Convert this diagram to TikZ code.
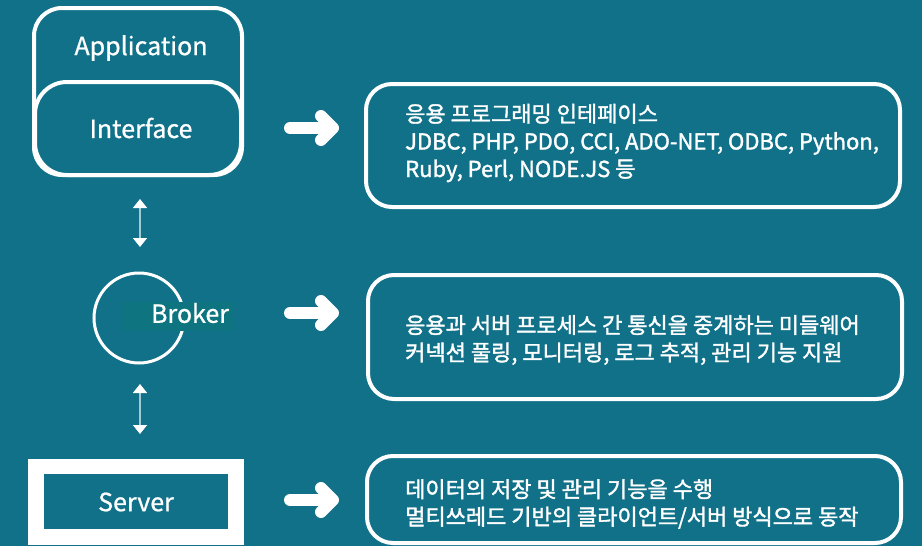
\documentclass[tikz,border=0pt]{standalone}
\usepackage{fontspec}
\setmainfont{Noto Sans CJK KR}[RawFeature={embolden=0.8}]
\newfontfamily\descfont{Noto Sans CJK KR}[RawFeature={embolden=1.6}]
\usetikzlibrary{arrows.meta}
\definecolor{bg}{HTML}{107189}
\definecolor{tagbg}{HTML}{0E7580}
\definecolor{shaft}{HTML}{A3CAD4}
\tikzset{
  x=1pt, y=-1pt,
  frame/.style={draw=white, line width=4pt, rounded corners=28pt},
  label/.style={text=white, font=\fontsize{25}{30}\selectfont, inner sep=0pt},
  desc/.style={text=white, font=\descfont\fontsize{22}{27.5}\selectfont, align=left, inner sep=0pt, anchor=west},
  bigarrow/.style={white, line width=12pt, line cap=round, line join=round},
  link/.style={shaft, line width=1.6pt, {Triangle[white,length=9pt,width=14pt]}-{Triangle[white,length=9pt,width=14pt]}}
}
\begin{document}
\begin{tikzpicture}
\fill[bg] (0,0) rectangle (922,546);
\useasboundingbox (0,0) rectangle (922,546);

% application / interface stack
\draw[frame] (34,8) rectangle (242,175);
\draw[frame, rounded corners=32pt] (35,82) rectangle (241,175);
\node[label] (app) at (141,48) {Application};
\node[label] (intf) at (141,128) {Interface};

% broker
\coordinate (bk) at (139,318);
\draw[white, line width=3pt] (bk) circle (45);
\fill[tagbg] (122,302) rectangle (233,331);
\node[label] (brk) at (190,313) {Broker};

% server
\fill[white] (28,459) rectangle (244,545);
\fill[bg] (44,474) rectangle (228,529);
\node[label] (srv) at (136,502) {Server};

% vertical links
\coordinate (l1a) at (140,199);
\coordinate (l1b) at (140,247);
\coordinate (l2a) at (140,384);
\coordinate (l2b) at (140,434);
\draw[link] (l1a) -- (l1b);
\draw[link] (l2a) -- (l2b);

% description boxes
\draw[frame, rounded corners=26pt] (366,84) rectangle (900,207);
\draw[frame, rounded corners=26pt] (368,275) rectangle (902,399);
\draw[frame, rounded corners=26pt] (367,456) rectangle (901,543);

\node[desc] (d1) at (405,143) {응용 프로그래밍 인테페이스\\JDBC, PHP, PDO, CCI, ADO-NET, ODBC, Python,\\Ruby, Perl, NODE.JS 등};
\node[desc] (d2) at (405,340) {응용과 서버 프로세스 간 통신을 중계하는 미들웨어\\커넥션 풀링, 모니터링, 로그 추적, 관리 기능 지원};
\node[desc] (d3) at (405,504) {데이터의 저장 및 관리 기능을 수행\\멀티쓰레드 기반의 클라이언트/서버 방식으로 동작};

% pointer arrows
\foreach \yy in {128,313,500}{
  \draw[bigarrow] (290,\yy) -- (331,\yy);
  \draw[bigarrow] (321,\yy-12) -- (333,\yy) -- (321,\yy+12);
}
\end{tikzpicture}
\end{document}
